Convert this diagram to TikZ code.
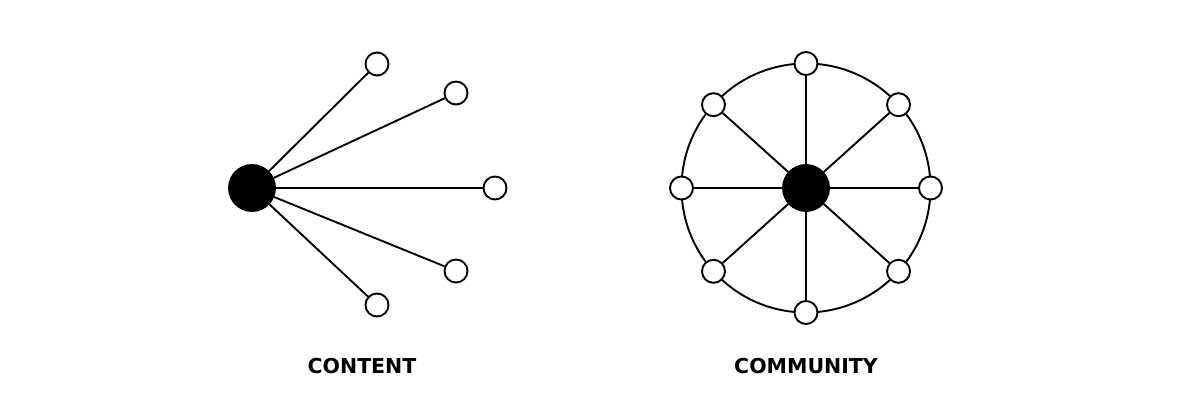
\documentclass[tikz,border=0pt]{standalone}
\usepackage{fontspec}
\setmainfont{Liberation Sans}
\newfontfamily\captionfont{DejaVu Sans}
\usepackage{tikz}
\usetikzlibrary{calc}

\begin{document}
\begin{tikzpicture}[x=1pt, y=-1pt, line width=1.9pt,
    hub/.style={circle, draw, fill=black, minimum size=46pt, inner sep=0pt},
    leaf/.style={circle, draw, fill=white, minimum size=23pt, inner sep=0pt},
    caption/.style={font=\captionfont\fontsize{20.5}{24}\selectfont\bfseries}]
        \useasboundingbox (0,0) rectangle (1200,411);

        % Content: one hub, five leaves
        \node[hub] (c) at (252,188) {};
        \node[leaf] (c1) at (377,64) {};
        \node[leaf] (c2) at (456,93) {};
        \node[leaf] (c3) at (495,188) {};
        \node[leaf] (c4) at (456,271) {};
        \node[leaf] (c5) at (377,305) {};
        \foreach \i in {1,...,5} {
            \draw (c) -- (c\i);
        }
        \node[caption] (clabel) at (362,366) {CONTENT};

        % Community: hub, ring, eight leaves
        \coordinate (m) at (806,188);
        \draw (m) circle (124.5);
        \node[hub] (h) at (m) {};
        \foreach \a [count=\i] in {90,42,0,-42,-90,-138,180,138} {
            \node[leaf] (m\i) at ($(m)+(\a:124.5)$) {};
            \draw (h) -- (m\i);
        }
        \node[caption] (mlabel) at (806,366) {COMMUNITY};
    \end{tikzpicture}
\end{document}
